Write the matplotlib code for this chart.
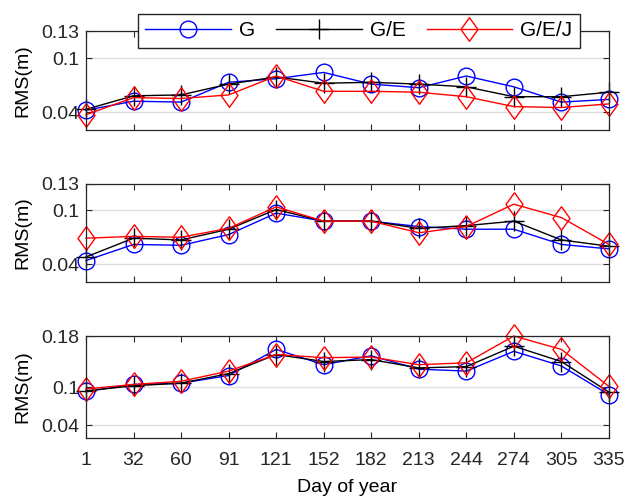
import matplotlib
matplotlib.use("Agg")
import matplotlib.pyplot as plt
import numpy as np

plt.rcParams['font.family'] = ['Liberation Sans', 'DejaVu Sans']

days = ['1', '32', '60', '91', '121', '152', '182', '213', '244', '274', '305', '335']
series = ['G', 'G/E', 'G/E/J']

# RMS (m) per panel, one list per solution
p1_g = [0.042, 0.052, 0.051, 0.073, 0.077, 0.084, 0.071, 0.067, 0.080, 0.068, 0.051, 0.054]
p1_ge = [0.043, 0.058, 0.059, 0.071, 0.079, 0.072, 0.073, 0.071, 0.068, 0.057, 0.057, 0.062]
p1_gej = [0.037, 0.056, 0.055, 0.059, 0.080, 0.063, 0.063, 0.062, 0.057, 0.046, 0.045, 0.049]

p2_g = [0.044, 0.062, 0.061, 0.073, 0.097, 0.088, 0.088, 0.082, 0.079, 0.079, 0.062, 0.057]
p2_ge = [0.048, 0.069, 0.067, 0.079, 0.101, 0.088, 0.088, 0.080, 0.083, 0.088, 0.067, 0.060]
p2_gej = [0.069, 0.071, 0.070, 0.080, 0.104, 0.088, 0.088, 0.075, 0.082, 0.107, 0.092, 0.062]

p3_g = [0.093, 0.104, 0.106, 0.118, 0.159, 0.135, 0.149, 0.128, 0.125, 0.156, 0.133, 0.088]
p3_ge = [0.094, 0.102, 0.106, 0.121, 0.151, 0.140, 0.143, 0.130, 0.132, 0.164, 0.140, 0.092]
p3_gej = [0.097, 0.104, 0.109, 0.125, 0.151, 0.146, 0.147, 0.135, 0.138, 0.180, 0.159, 0.101]

panels = [
    ((p1_g, p1_ge, p1_gej), (0.02, 0.13), [0.04, 0.1, 0.13]),
    ((p2_g, p2_ge, p2_gej), (0.02, 0.13), [0.04, 0.1, 0.13]),
    ((p3_g, p3_ge, p3_gej), (0.02, 0.18), [0.04, 0.1, 0.18]),
]

diamond = [(0, 1), (0.72, 0), (0, -1), (-0.72, 0), (0, 1)]
styles = [
    dict(color='blue', marker='o', ms=12, mfc='none', mew=1.0),
    dict(color='black', marker='+', ms=15, mew=1.0),
    dict(color='red', marker=diamond, ms=17, mfc='none', mew=1.0),
]

fig = plt.figure(figsize=(6.3, 4.97), dpi=100)
x = np.arange(len(days))
# axes boxes in figure fractions: left, bottom, width, height
boxes = [
    [0.1365, 0.7384, 0.830, 0.1992],
    [0.1365, 0.4326, 0.830, 0.1980],
    [0.1365, 0.1187, 0.830, 0.2052],
]
handles = []
for i, ((a, b, c), ylim, yticks) in enumerate(panels):
    ax = fig.add_axes(boxes[i])
    for vals, name, st in zip((a, b, c), series, styles):
        h, = ax.plot(x, vals, lw=1.0, label=name, clip_on=False, **st)
        if i == 0:
            handles.append(h)
    ax.set_xlim(0, len(days) - 1)
    ax.set_ylim(*ylim)
    ax.set_yticks(yticks)
    ax.set_yticklabels([f'{t:g}' for t in yticks])
    ax.set_xticks(x)
    if i == 2:
        ax.set_xticklabels(days)
        ax.set_xlabel('Day of year', fontsize=14, labelpad=7)
    else:
        ax.set_xticklabels([])
    ax.set_ylabel('RMS(m)', fontsize=14, labelpad=7)
    ax.grid(axis='y', color='#dedede', lw=1.0)
    ax.set_axisbelow(True)
    ax.tick_params(direction='in', length=4, width=0.8, top=True, right=True,
                   labelsize=14, colors='#262626')
    ax.tick_params(axis='x', pad=10)
    ax.tick_params(axis='y', pad=5)
    for s in ax.spines.values():
        s.set_color('#262626')
        s.set_linewidth(0.9)

fig.legend(handles=handles, loc='center', bbox_to_anchor=(359 / 630, 1 - 31 / 497),
           ncol=3, fontsize=15, frameon=True, fancybox=False, edgecolor='#262626',
           framealpha=1, handlelength=4.1, handletextpad=0.4, columnspacing=1.0,
           borderpad=0.35)

fig.savefig('out.png', dpi=100)
